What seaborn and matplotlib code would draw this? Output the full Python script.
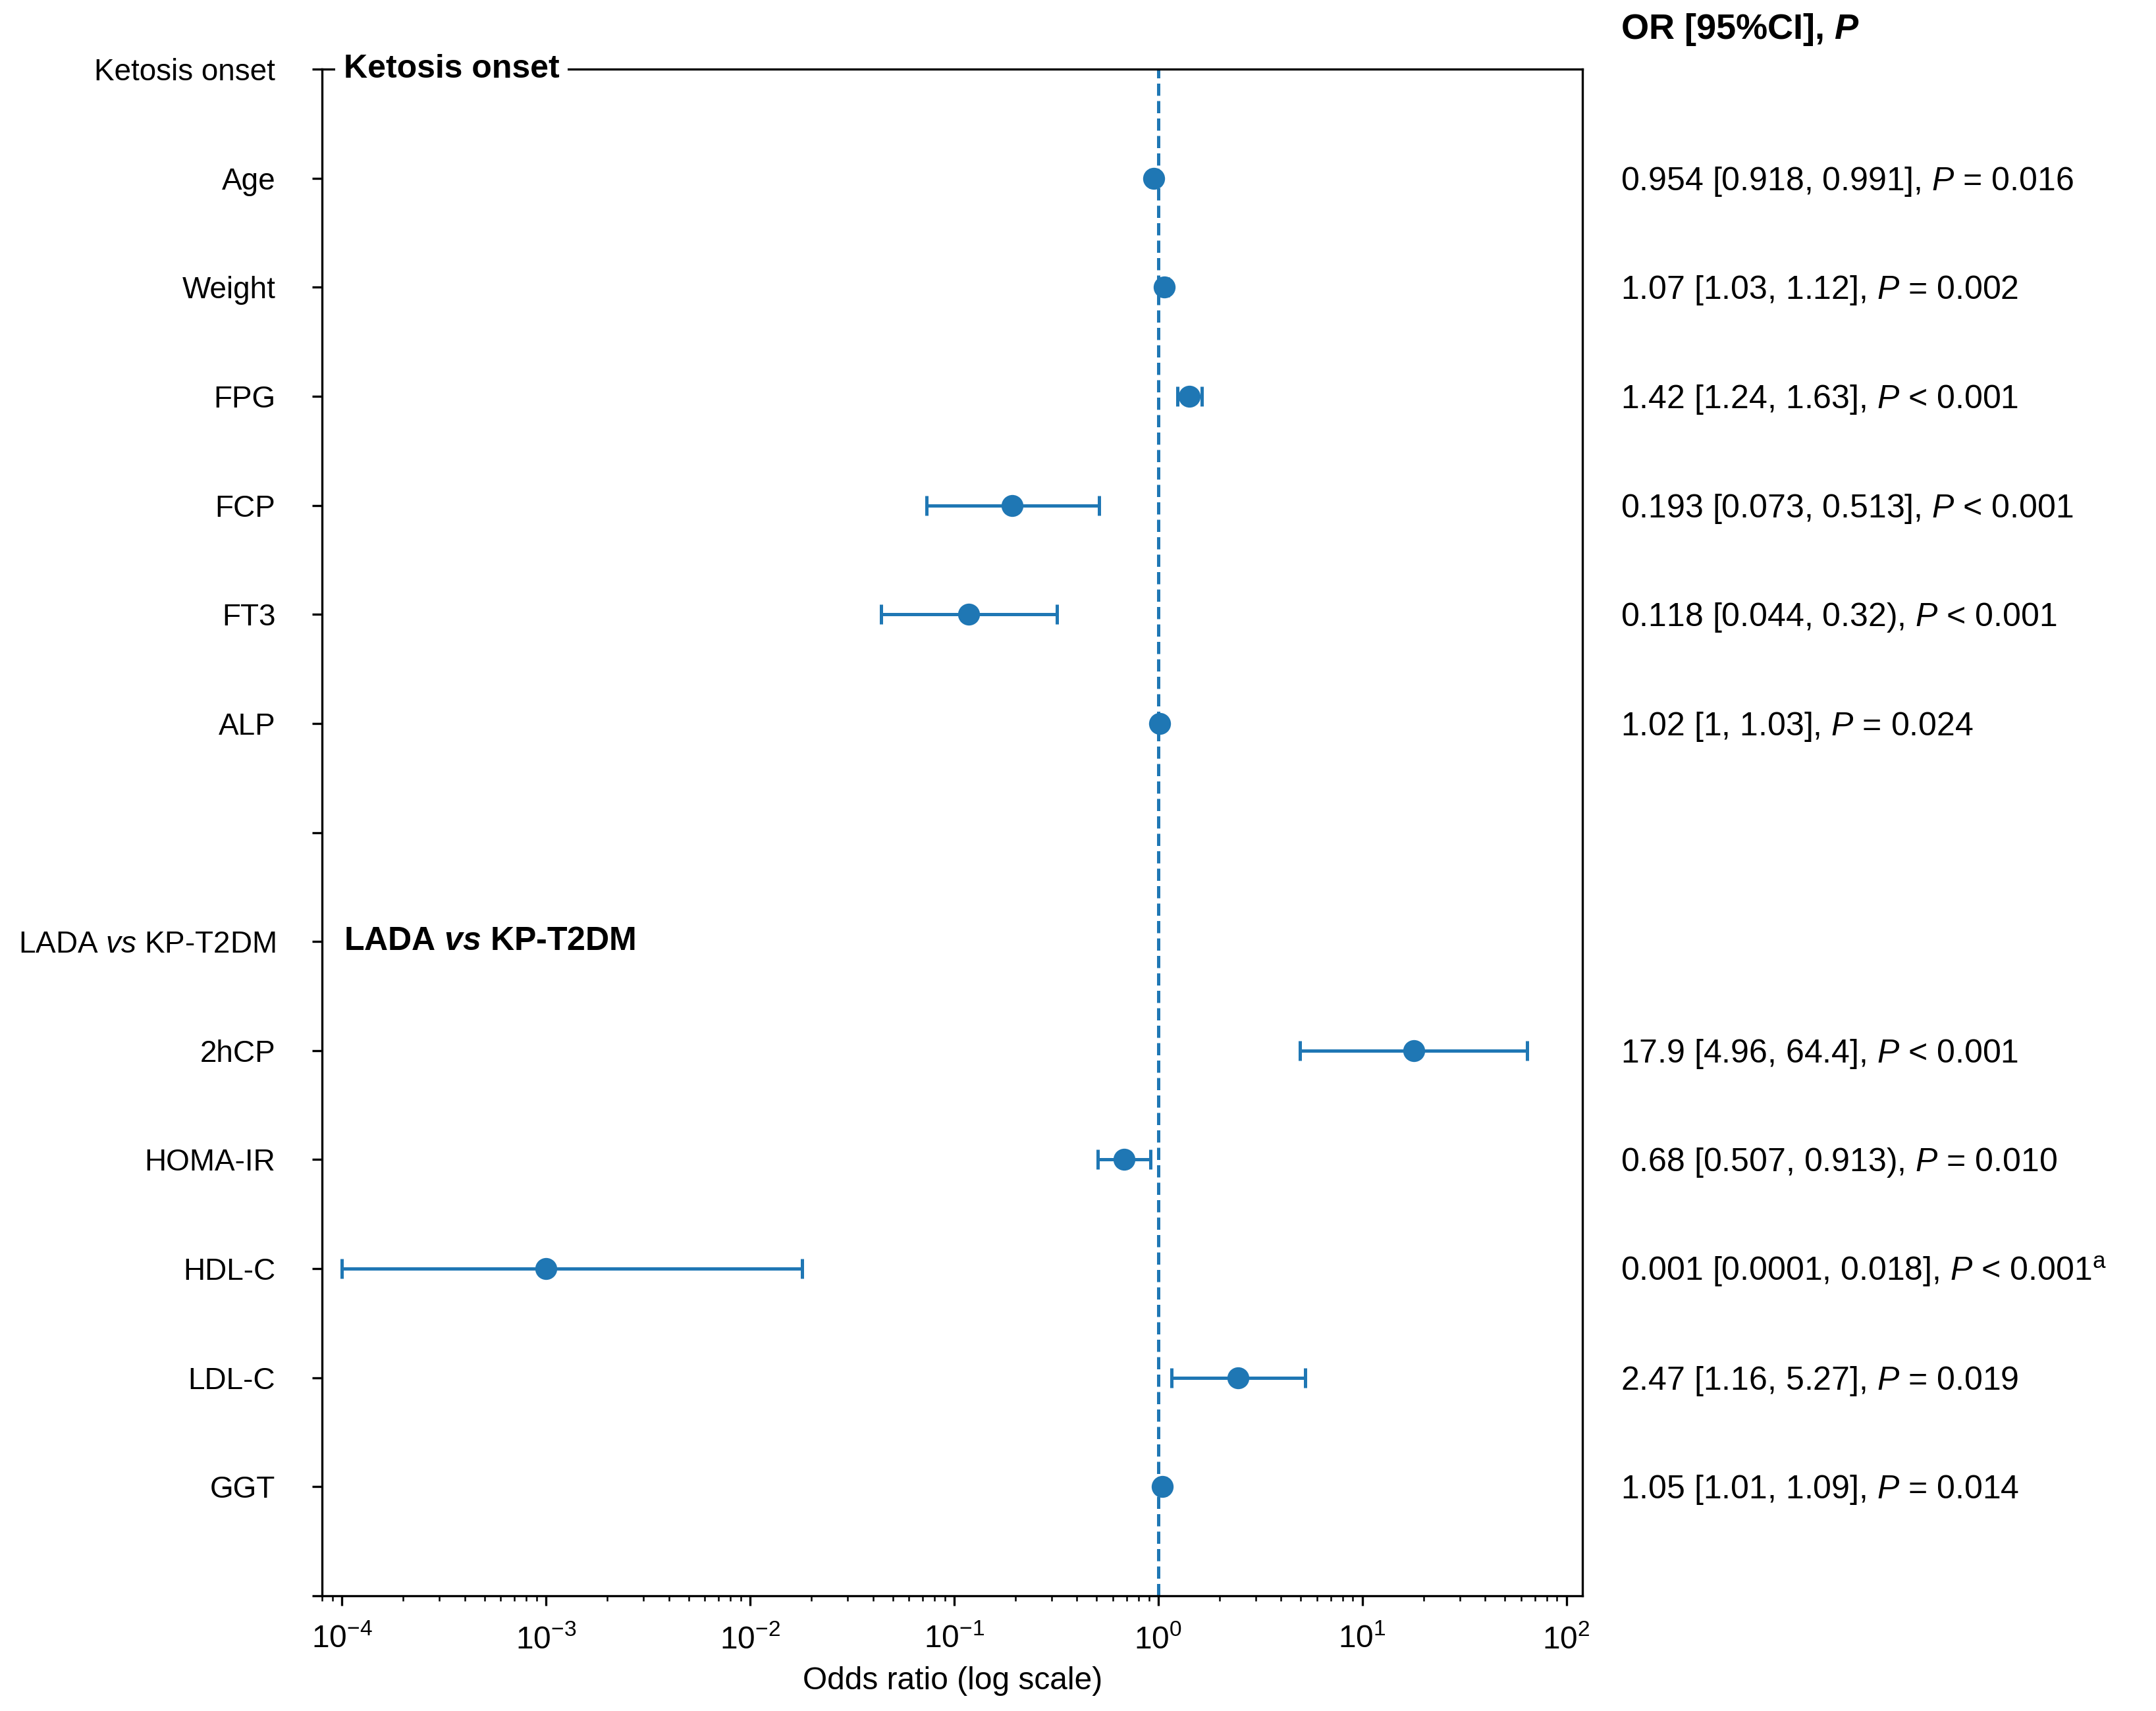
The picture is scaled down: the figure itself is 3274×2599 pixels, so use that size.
import numpy as np
import pandas as pd
import matplotlib
matplotlib.use("Agg")
import matplotlib.pyplot as plt
import matplotlib.transforms as mtransforms
import seaborn as sns

# ---------------- data ----------------
row_labels = ["Ketosis onset", "Age", "Weight", "FPG", "FCP", "FT3", "ALP", "",
              "LADA $\\mathit{vs}$ KP-T2DM", "2hCP", "HOMA-IR", "HDL-C", "LDL-C", "GGT", ""]
group_titles = ["Ketosis onset", "LADA $\\mathbfit{vs}$ KP-T2DM"]
group_rows = ["Ketosis onset", "LADA $\\mathit{vs}$ KP-T2DM"]

variables = ["Age", "Weight", "FPG", "FCP", "FT3", "ALP",
             "2hCP", "HOMA-IR", "HDL-C", "LDL-C", "GGT"]
or_values = [0.954, 1.07, 1.42, 0.193, 0.118, 1.02,
             17.9, 0.68, 0.001, 2.47, 1.05]
ci_low = [0.918, 1.03, 1.24, 0.073, 0.044, 1.0,
          4.96, 0.507, 0.0001, 1.16, 1.01]
ci_high = [0.991, 1.12, 1.63, 0.513, 0.32, 1.03,
           64.4, 0.913, 0.018, 5.27, 1.09]
annotations = [
    "0.954 [0.918, 0.991], $P$ = 0.016",
    "1.07 [1.03, 1.12], $P$ = 0.002",
    "1.42 [1.24, 1.63], $P$ < 0.001",
    "0.193 [0.073, 0.513], $P$ < 0.001",
    "0.118 [0.044, 0.32), $P$ < 0.001",
    "1.02 [1, 1.03], $P$ = 0.024",
    "17.9 [4.96, 64.4], $P$ < 0.001",
    "0.68 [0.507, 0.913), $P$ = 0.010",
    "0.001 [0.0001, 0.018], $P$ < 0.001$^{\\mathrm{a}}$",
    "2.47 [1.16, 5.27], $P$ = 0.019",
    "1.05 [1.01, 1.09], $P$ = 0.014",
]
header_text = "OR [95%CI], $\\mathbfit{P}$"
x_label = "Odds ratio (log scale)"

# ---------------- style ----------------
sns.set_theme(style="ticks", context="notebook")
FS = 11.5
plt.rcParams.update({
    "font.family": ["Liberation Sans", "DejaVu Sans"],
    "mathtext.fontset": "custom",
    "mathtext.rm": "Liberation Sans",
    "mathtext.it": "Liberation Sans:italic",
    "mathtext.bf": "Liberation Sans:bold",
    "mathtext.bfit": "Liberation Sans:italic:bold",
    "axes.unicode_minus": False,
    "axes.edgecolor": "black",
    "axes.linewidth": 0.8,
    "text.color": "black",
    "axes.labelcolor": "black",
    "xtick.color": "black",
    "ytick.color": "black",
    "xtick.major.size": 3.5,
    "xtick.major.width": 0.8,
    "xtick.minor.size": 2.0,
    "xtick.minor.width": 0.6,
    "xtick.major.pad": 7,
    "ytick.major.size": 3.5,
    "ytick.major.width": 0.8,
    "font.size": FS,
    "xtick.labelsize": FS,
    "ytick.labelsize": 11,
    "axes.labelsize": FS,
})

color = "#1f77b4"

df = pd.DataFrame({
    "variable": variables,
    "OR": or_values,
    "lo": ci_low,
    "hi": ci_high,
    "text": annotations,
})
df["row"] = [row_labels.index(v) for v in df["variable"]]

fig = plt.figure(figsize=(3274 / 300, 2599 / 300), dpi=300)
ax = fig.add_axes([0.1494, 0.0673, 0.7340 - 0.1494, 0.9596 - 0.0673])

ax.axvline(1.0, color=color, linestyle="--", linewidth=1.2, zorder=1)

ax.errorbar(df["OR"], df["row"],
            xerr=[df["OR"] - df["lo"], df["hi"] - df["OR"]],
            fmt="none", ecolor=color, elinewidth=1.2, capsize=3.5,
            capthick=1.2, zorder=2)
sns.scatterplot(data=df, x="OR", y="row", ax=ax, color=color, s=64,
                linewidth=0, zorder=3, legend=False)

ax.set_xscale("log")
ax.set_xlim(8e-5, 120)
ax.set_ylim(len(row_labels) - 1, 0)
ax.set_yticks(range(len(row_labels)))
ax.set_yticklabels(row_labels)
ax.tick_params(axis="y", pad=13.5)
ax.set_xlabel(x_label)
ax.set_ylabel("")

ytr = ax.get_yaxis_transform()
for title, rl in zip(group_titles, group_rows):
    ax.text(0.017, row_labels.index(rl), title, transform=ytr,
            fontweight="bold", fontsize=12, ha="left", va="center",
            bbox=dict(facecolor="white", edgecolor="none", pad=3))

txt_tr = mtransforms.offset_copy(ytr, fig=fig, y=-4.3, units="points")
for _, r in df.iterrows():
    ax.text(1.03, r["row"], r["text"], transform=txt_tr, ha="left",
            va="baseline", fontsize=12, clip_on=False)

ax.text(1.03, 1.02, header_text, transform=ax.transAxes, fontweight="bold",
        fontsize=13, ha="left", va="baseline")

fig.savefig("out.png", dpi=300)
